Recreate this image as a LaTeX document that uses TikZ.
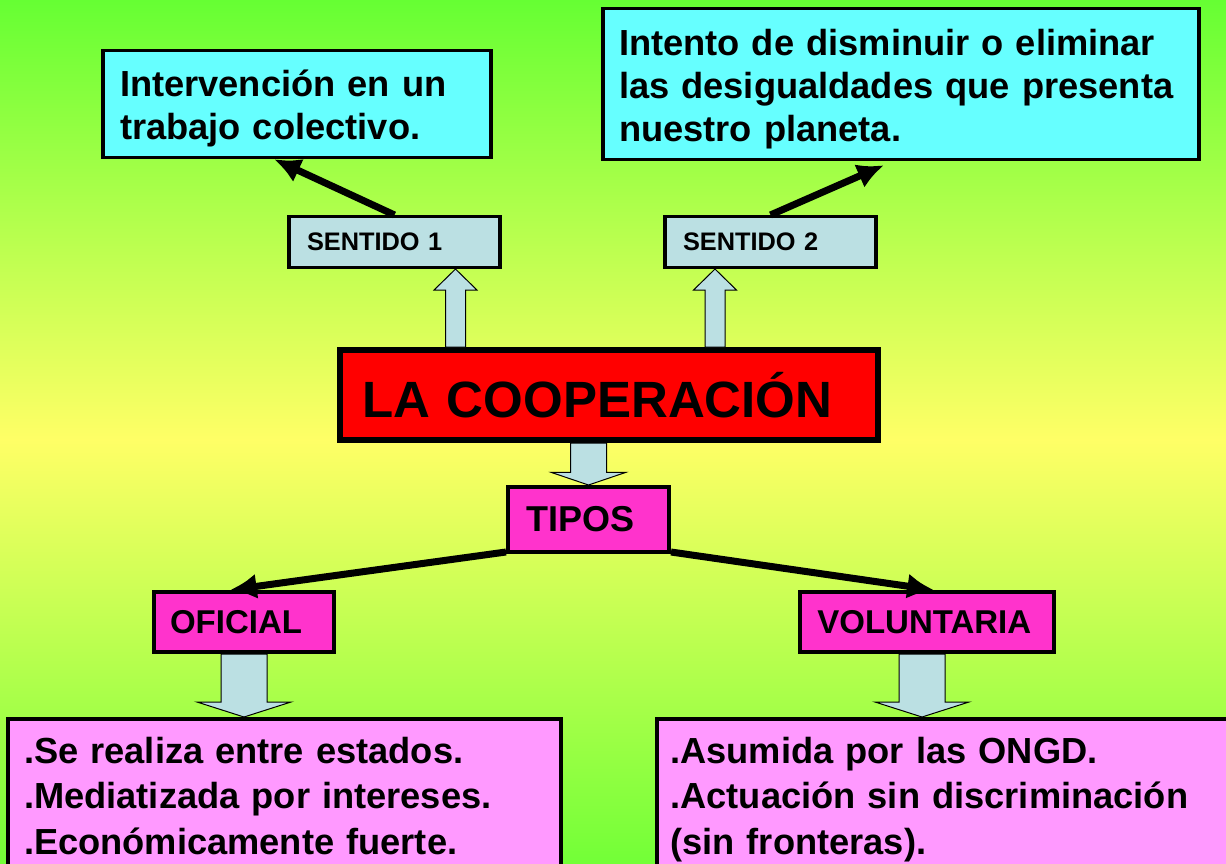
\documentclass[tikz,border=0pt]{standalone}
\usepackage{fontspec}
\setmainfont{Liberation Sans}
\usepackage{tikz}
\usetikzlibrary{calc,arrows.meta}
\definecolor{bggreen}{HTML}{66FF33}
\definecolor{bgyellow}{HTML}{FFFF66}
\definecolor{defcyan}{HTML}{66FFFF}
\definecolor{grisazul}{HTML}{BBE0E3}
\definecolor{rosa}{HTML}{FF33CC}
\definecolor{rosaclaro}{HTML}{FF99FF}
\newcommand{\drawBlockArrow}[5]{% tail, tip, half shaft, half head, head length
  \coordinate (ba-h) at ($(#2)!#5!(#1)$);
  \draw[bloque] ($(#1)!#3!90:(#2)$) -- ($(ba-h)!#3!90:(#2)$) -- ($(ba-h)!#4!90:(#2)$)
    -- (#2) -- ($(ba-h)!#4!-90:(#2)$) -- ($(ba-h)!#3!-90:(#2)$) -- ($(#1)!#3!-90:(#2)$) -- cycle;
}

\begin{document}
\begin{tikzpicture}[x=0.75pt,y=-0.75pt,
  caja/.style={draw,align=left,inner ysep=0pt,font=\bfseries},
  definicion/.style={caja,fill=defcyan,line width=2.6pt,inner xsep=12.75pt,text height=27pt,
    font=\fontsize{27.2}{32.25}\selectfont\bfseries},
  sentido/.style={caja,fill=grisazul,line width=2.3pt,inner xsep=13.5pt,
    text width=131.25pt,minimum height=38.25pt,font=\fontsize{19}{23}\selectfont\bfseries},
  tipo/.style={caja,fill=rosa,line width=3pt,minimum height=45pt,
    font=\fontsize{24.75}{29}\selectfont\bfseries},
  rasgos/.style={caja,fill=rosaclaro,line width=3pt,anchor=north west,inner xsep=12pt,
    inner ysep=13.75pt,font=\fontsize{27.2}{34}\selectfont\bfseries},
  flecha/.style={line width=5.25pt,-{Latex[length=20pt,width=19pt]}},
  bloque/.style={draw=black,line width=0.75pt,fill=grisazul,line join=miter}]

% Fondo
\useasboundingbox (0,0) rectangle (1226,863);
\clip (0,0) rectangle (1226,863);
\shade[top color=bggreen,bottom color=bgyellow] (0,0) rectangle (1226,440);
\shade[top color=bgyellow,bottom color=bggreen!92!bgyellow] (0,439) rectangle (1226,863);

% Definiciones
\node[definicion,text width=265.5pt,minimum height=80.25pt] (def1) at (297,104)
  {Intervención en un\\trabajo colectivo.};
\node[definicion,inner xsep=12pt,text width=423pt,minimum height=113.25pt] (def2) at (901,84)
  {Intento de disminuir o eliminar\\las desigualdades que presenta\\nuestro planeta.};

% Sentidos
\node[sentido] (s1) at (394.5,242) {SENTIDO 1};
\node[sentido] (s2) at (770.5,242) {SENTIDO 2};

% Centro
\node[caja,fill=red,line width=4.5pt,inner xsep=16.5pt,text width=370.5pt,minimum height=67.5pt,
  font=\fontsize{38.25}{44}\selectfont\bfseries] (coop) at (609,395) {LA COOPERACIÓN};

% Tipos
\node[tipo,line width=3pt,inner xsep=13.5pt,text width=93.75pt,minimum height=48.75pt,
  font=\fontsize{27}{32}\selectfont\bfseries] (tipos) at (588.5,519.5) {TIPOS};
\node[tipo,inner xsep=12pt,text width=111pt] (oficial) at (244,622) {OFICIAL};
\node[tipo,inner xsep=13pt,text width=164.5pt] (volunt) at (927,622) {VOLUNTARIA};

% Rasgos
\node[rasgos,inner xsep=12pt,text width=390.5pt] (rasgo1) at (6,717)
  {.Se realiza entre estados.\\.Mediatizada por intereses.\\.Económicamente fuerte.};
\node[rasgos,inner xsep=10pt,text width=440pt] (rasgo2) at (655,717)
  {.Asumida por las ONGD.\\.Actuación sin discriminación\\(sin fronteras).};

% Flechas de bloque
\coordinate (up1tail) at ($(coop.north west)+(118.5,0)$);
\coordinate (up1tip) at (up1tail |- s1.south);
\coordinate (up2tail) at ($(coop.north west)+(378,0)$);
\coordinate (up2tip) at (up2tail |- s2.south);
\drawBlockArrow{up1tail}{up1tip}{7.5pt}{16.1pt}{15.75pt}
\drawBlockArrow{up2tail}{up2tip}{7.5pt}{16.1pt}{15.75pt}

\coordinate (dntail) at (tipos.north |- coop.south);
\drawBlockArrow{dntail}{tipos.north}{13.5pt}{27.75pt}{9.4pt}

\coordinate (oftip) at (oficial.south |- rasgo1.north);
\drawBlockArrow{oficial.south}{oftip}{17.25pt}{35.25pt}{11.25pt}
\coordinate (votail) at ($(volunt.south)+(-5,0)$);
\coordinate (votip) at (votail |- rasgo2.north);
\drawBlockArrow{votail}{votip}{17.25pt}{35.25pt}{11.25pt}

% Flechas negras
\draw[flecha] (s1.north) -- ($(def1.south)+(-23,0)$);
\draw[flecha] (s2.north) -- ($(def2.south)+(-17,4)$);
\draw[flecha] ($(tipos.south west)+(0,-2)$) -- ($(oficial.north)+(-14,0)$);
\draw[flecha] ($(tipos.south east)+(0,-2)$) -- ($(volunt.north)+(7,0)$);

\end{tikzpicture}
\end{document}
